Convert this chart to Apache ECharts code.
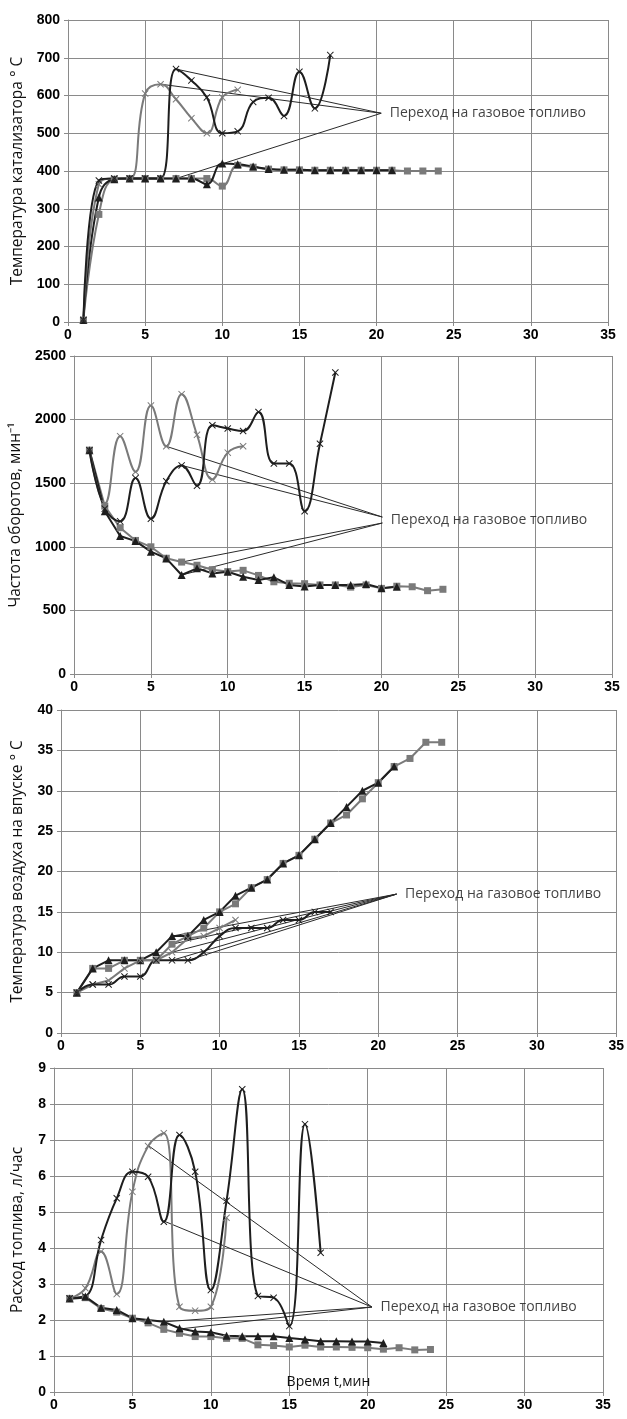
<!DOCTYPE html>
<html>
<head>
<meta charset="utf-8">
<script src="https://cdn.jsdelivr.net/npm/echarts@6/dist/echarts.min.js"></script>
<style>
  html, body { margin: 0; padding: 0; background: #fff; }
  #main { width: 627px; height: 1419px; }
</style>
</head>
<body>
<div id="main"></div>
<script>
// Time axis ticks, minutes
var xTicks = [0, 5, 10, 15, 20, 25, 30, 35];
var noteText = 'Переход на газовое топливо';

// Panel 1: catalyst temperature, values at t = 1, 2, 3 ...
var catGrayX = [5, 365, 380, 380, 605, 630, 590, 540, 500, 595, 615];
var catBlackX = [5, 375, 380, 380, 380, 380, 670, 640, 595, 500, 505, 583, 594, 546, 663, 566, 707];
var catSquare = [5, 285, 378, 380, 380, 380, 380, 380, 380, 360, 415, 410, 405, 403, 403, 402, 402, 402, 402, 402, 402, 400, 400, 400];
var catTriangle = [5, 330, 378, 380, 380, 380, 380, 380, 365, 420, 418, 412, 405, 403, 403, 402, 402, 402, 402, 402, 402];
var catNoteAt = [20.3, 553];
var catNoteFrom = [[7, 670], [6, 630], [7, 380]];

// Panel 2: engine speed
var rpmGrayX = [1760, 1340, 1870, 1590, 2110, 1790, 2200, 1880, 1530, 1740, 1790];
var rpmBlackX = [1760, 1300, 1200, 1540, 1220, 1515, 1640, 1480, 1955, 1930, 1910, 2060, 1655, 1655, 1280, 1810, 2370];
var rpmSquare = [1760, 1320, 1150, 1050, 1000, 910, 880, 855, 820, 805, 815, 775, 725, 713, 710, 700, 700, 683, 700, 673, 690, 686, 655, 666];
var rpmTriangle = [1760, 1280, 1085, 1045, 962, 909, 778, 831, 791, 804, 765, 739, 760, 700, 687, 700, 700, 700, 707, 675, 686];
var rpmNoteAt = [20.06, 1210];
var rpmNoteFrom = [[6, 1790], [7, 1640], [7, 880], [7, 778]];
var rpmNoteEnd = [1234, 1234, 1187, 1187];

// Panel 3: intake air temperature
var airGrayX = [5, 6, 6.5, 8, 9, 9, 10, 11.7, 12, 13, 14];
var airBlackX = [5, 6, 6, 7, 7, 9, 9, 9, 10, 12, 13, 13, 13, 14, 14, 15, 15];
var airSquare = [5, 8, 8, 9, 9, 9, 11, 12, 13, 15, 16, 18, 19, 21, 22, 24, 26, 27, 29, 31, 33, 34, 36, 36];
var airTriangle = [5, 8, 9, 9, 9, 10, 12, 12, 14, 15, 17, 18, 19, 21, 22, 24, 26, 28, 30, 31, 33];
var airNoteAt = [21.15, 17.2];
var airNoteFrom = [[7, 12], [7, 11], [7, 10], [7, 9], [8, 9]];

// Panel 4: fuel consumption
var fuelGrayX = [2.6, 2.88, 3.9, 2.72, 5.56, 6.83, 7.19, 2.37, 2.26, 2.37, 4.84];
var fuelBlackX = [2.6, 2.65, 4.22, 5.38, 6.12, 5.98, 4.73, 7.14, 6.12, 2.83, 5.31, 8.41, 2.67, 2.62, 1.83, 7.44, 3.87];
var fuelTriangle = [2.6, 2.65, 2.34, 2.28, 2.05, 2.0, 1.95, 1.77, 1.68, 1.66, 1.56, 1.55, 1.55, 1.55, 1.5, 1.46, 1.41, 1.41, 1.4, 1.4, 1.36];
var fuelSquare = [2.6, 2.62, 2.32, 2.22, 2.05, 1.92, 1.74, 1.63, 1.54, 1.54, 1.49, 1.49, 1.31, 1.29, 1.25, 1.3, 1.25, 1.25, 1.24, 1.23, 1.19, 1.23, 1.17, 1.18];
var fuelNoteAt = [20.27, 2.36];
var fuelNoteFrom = [[6, 6.85], [7, 4.75], [7, 1.95], [8, 1.75]];

var chart = echarts.init(document.getElementById('main'));

var GRAY = '#7a7a7a';
var BLACK = '#1e1e1e';
var CROSS = 'path://M0,1L1,0L5,4L9,0L10,1L6,5L10,9L9,10L5,6L1,10L0,9L4,5Z';
var FONT = 'Open Sans';
var TICKFONT = 'Liberation Sans';

function pairs(arr) {
    return arr.map(function (v, i) { return [i + 1, v]; });
}

var grids = [
    { left: 68, top: 20, width: 540, height: 302 },
    { left: 73, top: 356, width: 539, height: 318 },
    { left: 61, top: 710, width: 556, height: 323 },
    { left: 54, top: 1068, width: 549, height: 324 }
];
var yNames = ['Температура катализатора ° С', 'Частота оборотов, мин⁻¹',
    'Температура воздуха на впуске ° С', 'Расход топлива, л/час'];
var yMax = [800, 2500, 40, 9];
var yStep = [100, 500, 5, 1];
var yGap = [42, 47, 35, 28];

var xAxes = [], yAxes = [], series = [];
for (var i = 0; i < 4; i++) {
    xAxes.push({
        type: 'value', gridIndex: i, min: 0, max: 35, interval: 5,
        axisLine: { lineStyle: { color: '#8a8a8a' } },
        axisTick: { show: true, length: 4, lineStyle: { color: '#8a8a8a' } },
        axisLabel: { color: '#000', fontWeight: 'bold', fontSize: 14, fontFamily: TICKFONT, margin: 6 },
        splitLine: { lineStyle: { color: '#8a8a8a', width: 1 } },
        name: i === 3 ? 'Время t,мин' : '',
        nameLocation: 'middle', nameGap: -17,
        nameTextStyle: { color: '#111', fontSize: 14, fontFamily: FONT }
    });
    yAxes.push({
        type: 'value', gridIndex: i, min: 0, max: yMax[i], interval: yStep[i],
        axisLine: { show: true, lineStyle: { color: '#8a8a8a' } },
        axisTick: { show: true, length: 4, lineStyle: { color: '#8a8a8a' } },
        axisLabel: {
            color: '#000', fontWeight: 'bold', fontSize: 14, fontFamily: TICKFONT, margin: 8,
            formatter: function (v) { return String(v); }
        },
        splitLine: { lineStyle: { color: '#8a8a8a', width: 1 } },
        name: yNames[i], nameLocation: 'middle', nameGap: yGap[i],
        nameTextStyle: { color: '#111', fontSize: 15.5, fontFamily: FONT }
    });
}

function dataLine(idx, arr, color, symbol, size, smooth, width) {
    series.push({
        type: 'line', xAxisIndex: idx, yAxisIndex: idx,
        data: pairs(arr), smooth: smooth ? 0.45 : false,
        symbol: symbol, symbolSize: size, showSymbol: true,
        itemStyle: { color: color },
        lineStyle: { color: color, width: width },
        z: 3
    });
}

function leaders(idx, from, at, ends) {
    from.forEach(function (p, k) {
        var endY = ends ? ends[k] : at[1];
        series.push({
            type: 'line', xAxisIndex: idx, yAxisIndex: idx,
            data: [p, [at[0], endY]], symbol: 'none',
            lineStyle: { color: '#2a2a2a', width: 1 }, z: 2
        });
    });
    series.push({
        type: 'scatter', xAxisIndex: idx, yAxisIndex: idx,
        data: [at], symbolSize: 1, itemStyle: { color: 'rgba(0,0,0,0)' },
        label: {
            show: true, position: 'right', distance: 8,
            formatter: noteText, color: '#111', fontSize: 14, fontFamily: FONT
        }, z: 4
    });
}

var sets = [
    [catGrayX, catBlackX, catSquare, catTriangle, true],
    [rpmGrayX, rpmBlackX, rpmSquare, rpmTriangle, false],
    [airGrayX, airBlackX, airSquare, airTriangle, false],
    [fuelGrayX, fuelBlackX, fuelSquare, fuelTriangle, false]
];
sets.forEach(function (s, i) {
    dataLine(i, s[2], GRAY, 'rect', 7, s[4], 2);
    dataLine(i, s[3], BLACK, 'triangle', 8, s[4], 2);
    dataLine(i, s[0], GRAY, CROSS, 7, i !== 2, 2);
    dataLine(i, s[1], BLACK, CROSS, 7, true, 2);
});

leaders(0, catNoteFrom, catNoteAt);
leaders(1, rpmNoteFrom, rpmNoteAt, rpmNoteEnd);
leaders(2, airNoteFrom, airNoteAt);
leaders(3, fuelNoteFrom, fuelNoteAt);

chart.setOption({
    animation: false,
    backgroundColor: '#fff',
    grid: grids,
    xAxis: xAxes,
    yAxis: yAxes,
    series: series
});
</script>
</body>
</html>
